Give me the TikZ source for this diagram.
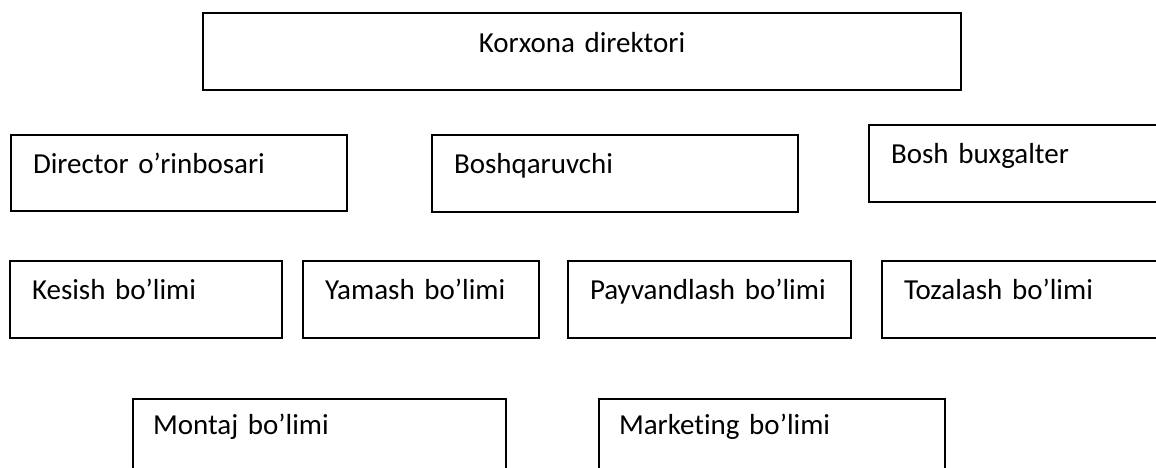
\documentclass[tikz,border=0pt]{standalone}
\usepackage{fontspec}
\setmainfont{Carlito}[Ligatures={NoCommon}]
\begin{document}
\begin{tikzpicture}[x=1pt,y=-1pt,
  orgbox/.style={draw=black, line width=1.8pt, anchor=north west, outer sep=0pt,
    inner xsep=22pt, inner ysep=0pt, align=left, font=\fontsize{29}{34}\selectfont}]
\useasboundingbox (0,0) rectangle (1156,468);
\clip (0,0) rectangle (1156,468);
\fill[white] (0,0) rectangle (1156,468);
% top
\node[orgbox, align=center, text width=714pt, text height=40pt, text depth=37pt] (dir) at (203,13) {Korxona direktori};
% row 2
\node[orgbox, text width=292pt, text height=38pt, text depth=38pt] (orin) at (11,135) {Director o’rinbosari};
\node[orgbox, text width=322pt, text height=38pt, text depth=39pt] (bosh) at (432,135) {Boshqaruvchi};
\node[orgbox, text width=262pt, text height=38pt, text depth=39pt] (bux) at (869,125) {Bosh buxgalter};
% row 3
\node[orgbox, text width=228pt, text height=38pt, text depth=39pt] (kes) at (10,261) {Kesish bo’limi};
\node[orgbox, text width=192pt, text height=38pt, text depth=39pt] (yam) at (303,261) {Yamash bo’limi};
\node[orgbox, text width=239pt, text height=38pt, text depth=39pt] (pay) at (568,261) {Payvandlash bo’limi};
\node[orgbox, text width=240pt, text height=38pt, text depth=39pt] (toz) at (882,261) {Tozalash bo’limi};
% row 4
\node[orgbox, inner xsep=20pt, text width=333pt, text height=35pt, text depth=50pt] (mon) at (133,399) {Montaj bo’limi};
\node[orgbox, inner xsep=20pt, text width=306pt, text height=35pt, text depth=50pt] (mar) at (599,399) {Marketing bo’limi};
\end{tikzpicture}
\end{document}
